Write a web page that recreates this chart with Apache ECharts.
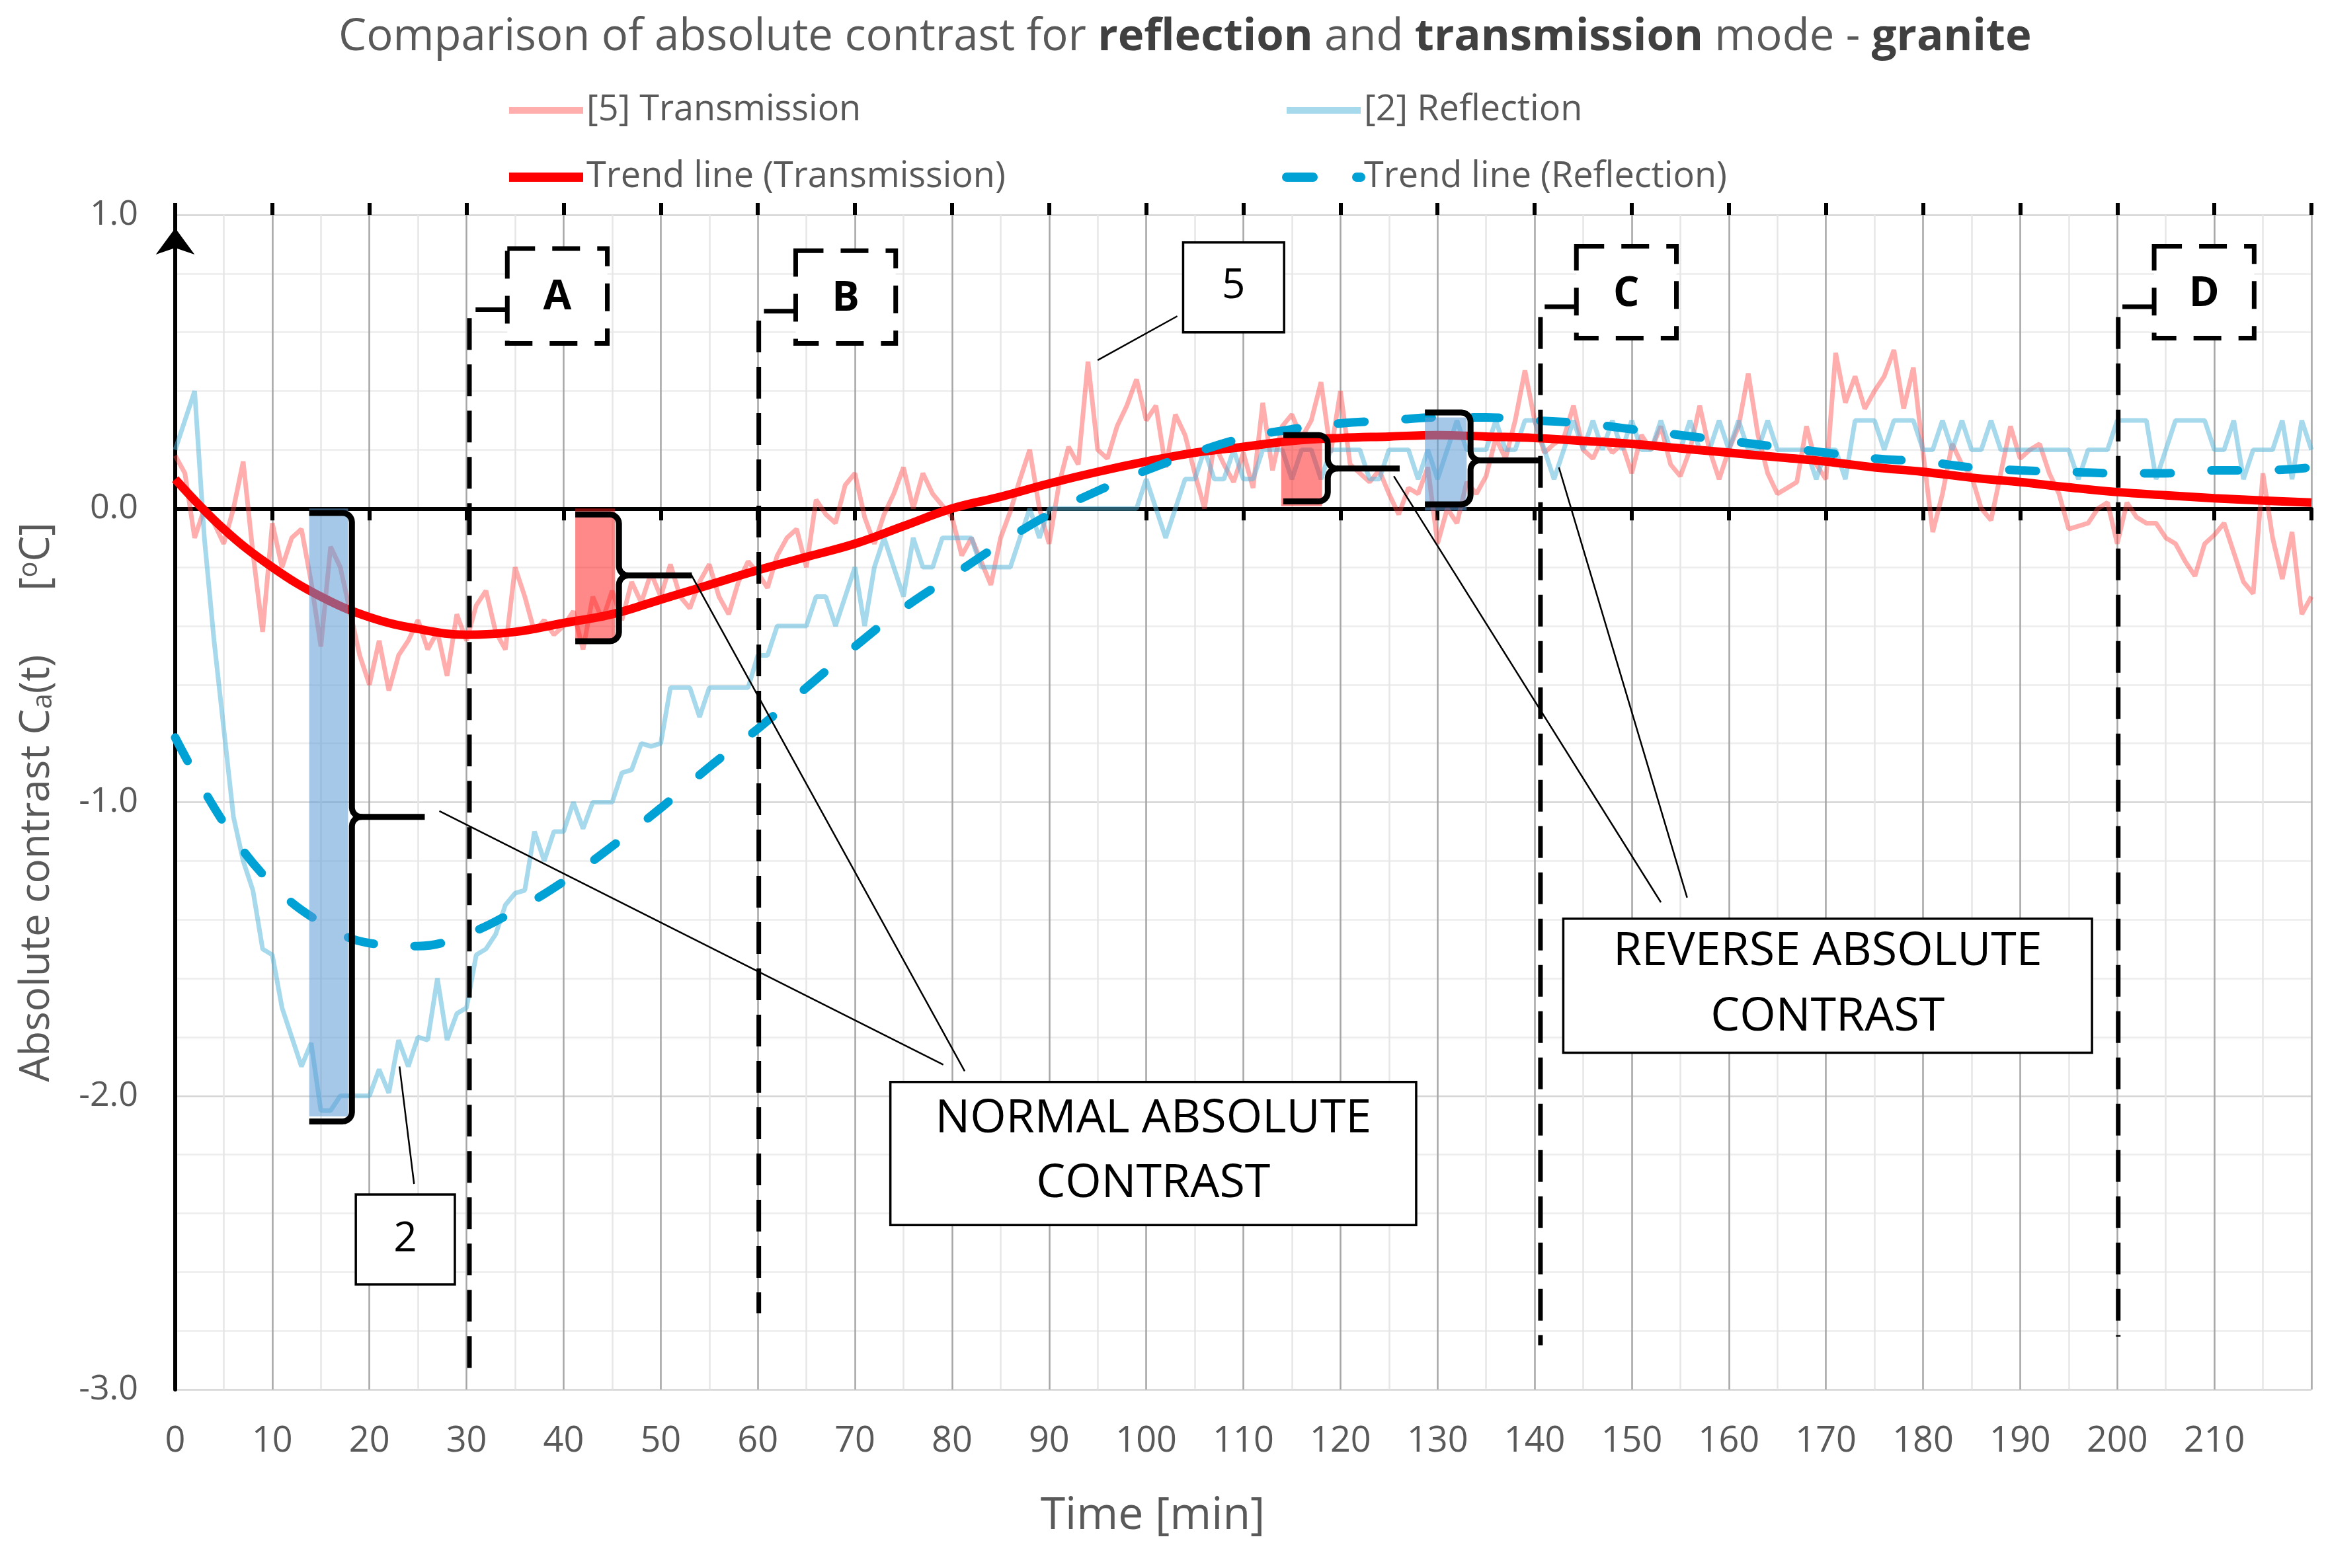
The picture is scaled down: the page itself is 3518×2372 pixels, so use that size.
<!DOCTYPE html>
<html><head><meta charset="utf-8">
<script src="https://cdn.jsdelivr.net/npm/echarts@6/dist/echarts.min.js"></script>
<style>html,body{margin:0;padding:0;background:#fff}#c{width:3518px;height:2372px}</style>
</head><body><div id="c"></div><script>
// ---------- DATA ----------
const TIME = [0,1,2,3,4,5,6,7,8,9,10,11,12,13,14,15,16,17,18,19,20,21,22,23,24,25,26,27,28,29,30,31,32,33,34,35,36,37,38,39,40,41,42,43,44,45,46,47,48,49,50,51,52,53,54,55,56,57,58,59,60,61,62,63,64,65,66,67,68,69,70,71,72,73,74,75,76,77,78,79,80,81,82,83,84,85,86,87,88,89,90,91,92,93,94,95,96,97,98,99,100,101,102,103,104,105,106,107,108,109,110,111,112,113,114,115,116,117,118,119,120,121,122,123,124,125,126,127,128,129,130,131,132,133,134,135,136,137,138,139,140,141,142,143,144,145,146,147,148,149,150,151,152,153,154,155,156,157,158,159,160,161,162,163,164,165,166,167,168,169,170,171,172,173,174,175,176,177,178,179,180,181,182,183,184,185,186,187,188,189,190,191,192,193,194,195,196,197,198,199,200,201,202,203,204,205,206,207,208,209,210,211,212,213,214,215,216,217,218,219,220];

const TRANSMISSION = [
 0.18,0.12,-0.1,0.0,-0.05,-0.12,0.0,0.16,-0.15,-0.42,
 -0.05,-0.2,-0.1,-0.07,-0.25,-0.47,-0.13,-0.2,-0.35,-0.5,
 -0.6,-0.45,-0.62,-0.5,-0.45,-0.38,-0.48,-0.42,-0.57,-0.36,
 -0.45,-0.33,-0.28,-0.42,-0.48,-0.2,-0.3,-0.42,-0.38,-0.43,
 -0.4,-0.35,-0.48,-0.3,-0.38,-0.28,-0.38,-0.25,-0.32,-0.22,
 -0.3,-0.19,-0.3,-0.34,-0.25,-0.19,-0.3,-0.36,-0.25,-0.18,
 -0.22,-0.27,-0.16,-0.1,-0.07,-0.2,0.03,-0.02,-0.05,0.08,
 0.12,-0.03,-0.12,-0.02,0.05,0.14,0.0,0.12,0.05,0.01,
 -0.03,-0.16,-0.1,-0.18,-0.26,-0.1,-0.01,0.1,0.2,0.0,
 -0.12,0.08,0.21,0.15,0.5,0.2,0.17,0.28,0.35,0.44,
 0.3,0.35,0.14,0.32,0.25,0.12,0.0,0.22,0.15,0.09,
 0.19,0.07,0.36,0.13,0.28,0.32,0.24,0.3,0.43,0.19,
 0.4,0.15,0.12,0.09,0.13,0.05,-0.02,0.07,0.05,0.14,
 -0.12,0.0,-0.05,0.09,0.05,0.11,0.24,0.17,0.3,0.47,
 0.3,0.19,0.22,0.24,0.35,0.2,0.17,0.24,0.19,0.22,
 0.12,0.25,0.2,0.28,0.15,0.11,0.2,0.35,0.2,0.1,
 0.2,0.28,0.46,0.25,0.12,0.05,0.07,0.09,0.28,0.15,
 0.1,0.53,0.36,0.45,0.34,0.4,0.45,0.54,0.34,0.48,
 0.19,-0.08,0.05,0.22,0.15,0.11,0.0,-0.04,0.12,0.28,
 0.17,0.2,0.22,0.12,0.05,-0.07,-0.06,-0.05,0.0,0.02,
 -0.12,0.02,-0.03,-0.05,-0.05,-0.1,-0.12,-0.18,-0.23,-0.12,
 -0.09,-0.05,-0.15,-0.25,-0.29,0.12,-0.1,-0.24,-0.08,-0.36,-0.3];

const REFLECTION = [
 0.2,0.3,0.4,-0.1,-0.45,-0.75,-1.05,-1.2,-1.3,-1.5,
 -1.52,-1.7,-1.8,-1.9,-1.82,-2.05,-2.05,-2.0,-2.0,-2.0,
 -2.0,-1.91,-1.99,-1.81,-1.9,-1.8,-1.81,-1.6,-1.81,-1.72,
 -1.7,-1.52,-1.5,-1.45,-1.35,-1.31,-1.3,-1.1,-1.2,-1.1,
 -1.1,-1.0,-1.09,-1.0,-1.0,-1.0,-0.9,-0.89,-0.8,-0.81,
 -0.8,-0.61,-0.61,-0.61,-0.71,-0.61,-0.61,-0.61,-0.61,-0.61,
 -0.5,-0.5,-0.4,-0.4,-0.4,-0.4,-0.3,-0.3,-0.4,-0.3,
 -0.2,-0.4,-0.2,-0.1,-0.2,-0.3,-0.1,-0.2,-0.2,-0.1,
 -0.1,-0.1,-0.1,-0.2,-0.2,-0.2,-0.2,-0.1,0.0,-0.1,
 0.0,0.0,0.0,0.0,0.0,0.0,0.0,0.0,0.0,0.0,
 0.1,0.0,-0.1,0.0,0.1,0.1,0.2,0.1,0.1,0.2,
 0.1,0.1,0.2,0.2,0.2,0.1,0.2,0.2,0.1,0.2,
 0.2,0.2,0.2,0.1,0.1,0.2,0.2,0.2,0.1,0.2,
 0.1,0.2,0.3,0.2,0.2,0.2,0.3,0.2,0.2,0.3,
 0.3,0.2,0.1,0.2,0.3,0.2,0.3,0.2,0.3,0.2,
 0.3,0.2,0.2,0.3,0.2,0.2,0.3,0.2,0.2,0.3,
 0.2,0.3,0.2,0.2,0.3,0.2,0.2,0.2,0.2,0.1,
 0.2,0.2,0.1,0.3,0.3,0.3,0.2,0.3,0.3,0.3,
 0.2,0.2,0.3,0.2,0.3,0.2,0.2,0.3,0.2,0.2,
 0.2,0.2,0.2,0.2,0.2,0.2,0.1,0.2,0.2,0.2,
 0.3,0.3,0.3,0.3,0.1,0.2,0.3,0.3,0.3,0.3,
 0.2,0.2,0.3,0.1,0.2,0.2,0.2,0.3,0.1,0.3,0.2];

const TREND_TIME = [0,5,10,15,20,25,30,35,40,45,50,55,60,65,70,75,80,85,90,95,100,105,110,115,120,125,130,135,140,145,150,155,160,165,170,175,180,185,190,195,200,205,210,215,220];
const TREND_TRANSMISSION = [0.1,-0.07,-0.2,-0.3,-0.37,-0.41,-0.43,-0.42,-0.39,-0.36,-0.31,-0.26,-0.21,-0.165,-0.12,-0.06,0.0,0.04,0.085,0.125,0.16,0.19,0.21,0.23,0.24,0.245,0.25,0.245,0.24,0.23,0.22,0.205,0.19,0.175,0.16,0.14,0.125,0.105,0.09,0.072,0.056,0.045,0.035,0.027,0.02];
const TREND_REFLECTION = [-0.78,-1.07,-1.28,-1.41,-1.48,-1.49,-1.45,-1.37,-1.27,-1.15,-1.02,-0.88,-0.75,-0.61,-0.47,-0.34,-0.23,-0.12,-0.02,0.06,0.13,0.19,0.24,0.27,0.29,0.3,0.31,0.31,0.3,0.29,0.27,0.25,0.23,0.21,0.19,0.17,0.16,0.14,0.13,0.125,0.12,0.12,0.13,0.13,0.14];

const SERIES_NAMES = ['[5] Transmission','[2] Reflection','Trend line (Transmission)','Trend line (Reflection)'];

// ---------- ANNOTATIONS (data coordinates) ----------
const SHADES = [
  {x0:13.8, x1:17.8, y0:0, y1:-2.07, kind:'blue'},
  {x0:41.2, x1:45.3, y0:0, y1:-0.45, kind:'red'},
  {x0:113.9, x1:118.1, y0:0.008, y1:0.237, kind:'red'},
  {x0:128.7, x1:133.0, y0:-0.007, y1:0.31, kind:'blue'}
];
const BRACES = [
  {xL:13.8, xV:18.2, yT:-0.015, yM:-1.05, yB:-2.087, xS:25.7},
  {xL:41.2, xV:45.7, yT:-0.02, yM:-0.228, yB:-0.452, xS:53.2},
  {xL:114.1, xV:118.7, yT:0.25, yM:0.136, yB:0.024, xS:126.1},
  {xL:128.7, xV:133.4, yT:0.327, yM:0.164, yB:0.014, xS:140.75}
];
const PHASES = [
  {label:'A', x:30.3, top:0.677, bottom:-2.955, box:[34.2,44.5,0.562,0.885]},
  {label:'B', x:60.1, top:0.672, bottom:-2.74, box:[63.9,74.2,0.562,0.878]},
  {label:'C', x:140.6, top:0.687, bottom:-2.85, box:[144.3,154.6,0.58,0.893]},
  {label:'D', x:200.1, top:0.687, bottom:-2.82, box:[203.8,214.1,0.58,0.893]}
];
const LEADERS = [
  [95.0,0.505,103.2,0.655],
  [23.1,-1.9,24.6,-2.3],
  [27.2,-1.03,79.1,-1.894],
  [53.1,-0.223,81.3,-1.916],
  [125.5,0.11,153.0,-1.341],
  [142.5,0.14,155.7,-1.325]
];
const NOTE_BOXES = [
  {lines:['5'], ys:[0.755], box:[103.8,114.2,0.6,0.906], size:62},
  {lines:['2'], ys:[-2.49], box:[18.6,28.8,-2.642,-2.336], size:62},
  {lines:['NORMAL ABSOLUTE','CONTRAST'], ys:[-2.079,-2.30], box:[73.65,127.8,-2.44,-1.953], size:70},
  {lines:['REVERSE ABSOLUTE','CONTRAST'], ys:[-1.51,-1.732], box:[142.95,197.4,-1.853,-1.397], size:70}
];

const FONT = '"Open Sans", "Noto Sans", sans-serif';
const GREY = '#595959';

const ANN = [];
SHADES.forEach(s => ANN.push({t:'shade', s}));
PHASES.forEach(s => ANN.push({t:'phase', s}));
BRACES.forEach(s => ANN.push({t:'brace', s}));
LEADERS.forEach(s => ANN.push({t:'leader', s}));
NOTE_BOXES.forEach(s => ANN.push({t:'note', s}));

function rectFrom(api, x0, x1, y0, y1) {
  const a = api.coord([x0, y0]), b = api.coord([x1, y1]);
  return {x: Math.min(a[0], b[0]), y: Math.min(a[1], b[1]), width: Math.abs(b[0]-a[0]), height: Math.abs(b[1]-a[1])};
}

function renderItem(params, api) {
  const a = ANN[api.value(2)];
  const s = a.s;
  if (a.t === 'shade') {
    return {type:'rect', shape: rectFrom(api, s.x0, s.x1, s.y0, s.y1),
      style:{fill: s.kind === 'blue' ? 'rgba(91,155,213,0.55)' : 'rgba(255,20,20,0.5)'}};
  }
  if (a.t === 'phase') {
    const p1 = api.coord([s.box[0], s.top]), p2 = api.coord([s.x, s.top]), p3 = api.coord([s.x, s.bottom]);
    const r = rectFrom(api, s.box[0], s.box[1], s.box[2], s.box[3]);
    return {type:'group', children:[
      {type:'polyline', shape:{points:[p1,p2,p3]}, style:{stroke:'#000', lineWidth:7, lineDash:[48,22], fill:null}},
      {type:'rect', shape:r, style:{stroke:'#000', lineWidth:7, lineDash:[42,26], fill:'#fff'}},
      {type:'text', x: r.x + r.width/2, y: r.y + r.height/2 + 3, style:{text:s.label, fill:'#000', font:'bold 62px ' + FONT, align:'center', verticalAlign:'middle'}}
    ]};
  }
  if (a.t === 'brace') {
    const T = api.coord([s.xL, s.yT]), V = api.coord([s.xV, s.yT]), M = api.coord([s.xV, s.yM]), B = api.coord([s.xV, s.yB]), L2 = api.coord([s.xL, s.yB]), S = api.coord([s.xS, s.yM]);
    const Vx = V[0], Ty = T[1], My = M[1], By = B[1];
    const r = Math.min(14, (By - Ty) / 6);
    const pts = [[T[0], Ty]];
    const N = 6;
    for (let i = 0; i <= N; i++) { const th = Math.PI/2*i/N; pts.push([Vx - r + r*Math.sin(th), Ty + r - r*Math.cos(th)]); }
    for (let i = 0; i <= N; i++) { const th = Math.PI/2*i/N; pts.push([Vx + r - r*Math.cos(th), My - r + r*Math.sin(th)]); }
    for (let i = 0; i <= N; i++) { const th = Math.PI/2*i/N; pts.push([Vx + r - r*Math.sin(th), My + r - r*Math.cos(th)]); }
    for (let i = 0; i <= N; i++) { const th = Math.PI/2*i/N; pts.push([Vx - r + r*Math.cos(th), By - r + r*Math.sin(th)]); }
    pts.push([L2[0], By]);
    return {type:'group', children:[
      {type:'polyline', shape:{points:pts}, style:{stroke:'#000', lineWidth:9, fill:null, lineJoin:'round'}},
      {type:'line', shape:{x1:Vx + r, y1:My, x2:S[0], y2:My}, style:{stroke:'#000', lineWidth:9}}
    ]};
  }
  if (a.t === 'leader') {
    const p = api.coord([s[0], s[1]]), q = api.coord([s[2], s[3]]);
    return {type:'line', shape:{x1:p[0], y1:p[1], x2:q[0], y2:q[1]}, style:{stroke:'#000', lineWidth:2.5}};
  }
  if (a.t === 'note') {
    const r = rectFrom(api, s.box[0], s.box[1], s.box[2], s.box[3]);
    const children = [{type:'rect', shape:r, style:{stroke:'#000', lineWidth:3.5, fill:'#fff'}}];
    s.lines.forEach((ln, i) => {
      const p = api.coord([(s.box[0] + s.box[1]) / 2, s.ys[i]]);
      children.push({type:'text', x:p[0], y:p[1], style:{text:ln, fill:'#000', font: s.size + 'px ' + FONT, align:'center', verticalAlign:'middle'}});
    });
    return {type:'group', children};
  }
  return null;
}

const pairs = (xs, ys) => xs.map((x, i) => [x, ys[i]]);
const legendText = {fontSize:54, color:GREY, fontFamily:FONT, lineHeight:60};

const chart = echarts.init(document.getElementById('c'), null, {renderer:'canvas'});
chart.setOption({
  animation: false,
  backgroundColor: '#fff',
  title: {
    text: '{n|Comparison of absolute contrast for }{b|reflection}{n| and }{b|transmission}{n| mode - }{b|granite}',
    left: 507, top: 18,
    textStyle: {fontSize: 67, fontWeight:'normal', fontFamily: FONT,
      rich: {n:{fontSize:67, fontWeight:'normal', color:GREY, fontFamily:FONT}, b:{fontSize:67, fontWeight:'bold', color:'#404040', fontFamily:FONT}}}
  },
  legend: [
    {orient:'vertical', left:758, top:132, itemWidth:112, itemHeight:24, itemGap:41,
     textStyle:legendText,
     data:[{name:SERIES_NAMES[0], lineStyle:{width:10}, itemStyle:{opacity:0}}, {name:SERIES_NAMES[2], lineStyle:{width:14}, itemStyle:{opacity:0}}]},
    {orient:'vertical', left:1934, top:132, itemWidth:112, itemHeight:24, itemGap:41,
     textStyle:legendText,
     data:[{name:SERIES_NAMES[1], lineStyle:{width:10}, itemStyle:{opacity:0}}, {name:SERIES_NAMES[3], lineStyle:{width:14, type:[40,66]}, itemStyle:{opacity:0}}]}
  ],
  grid: {left:265, right:22, top:325, bottom:270, containLabel:false},
  xAxis: [
    {type:'value', min:0, max:220, interval:10, position:'bottom',
     axisLine:{show:false, onZero:false}, axisTick:{show:false},
     axisLabel:{margin:52, fontSize:54, color:GREY, fontFamily:FONT, formatter: v => v >= 220 ? '' : String(v)},
     splitLine:{show:true, lineStyle:{color:'#A6A6A6', width:2.5}},
     minorTick:{show:false, splitNumber:2},
     minorSplitLine:{show:true, lineStyle:{color:'#E6E6E6', width:2.5}},
     name:'Time [min]', nameLocation:'middle', nameGap:158,
     nameTextStyle:{fontSize:68, color:GREY, fontFamily:FONT, padding:[0,274,0,0]}},
    {type:'value', min:0, max:220, interval:10, position:'bottom',
     axisLine:{show:true, onZero:true, lineStyle:{color:'#000', width:6}},
     axisTick:{show:true, inside:false, length:18, lineStyle:{color:'#000', width:6}},
     axisLabel:{show:false}, splitLine:{show:false}},
    {type:'value', min:0, max:220, interval:10, position:'top',
     axisLine:{show:false, onZero:true},
     axisTick:{show:true, inside:false, length:18, lineStyle:{color:'#000', width:6}},
     axisLabel:{show:false}, splitLine:{show:false}}
  ],
  yAxis: {type:'value', min:-3, max:1, interval:1,
    axisLine:{show:true, onZero:false, lineStyle:{color:'#000', width:6}, symbol:['none','arrow'], symbolSize:[44,40], symbolOffset:[0,-20]},
    axisTick:{show:false},
    axisLabel:{margin:56, fontSize:52, color:GREY, fontFamily:FONT, formatter: v => v.toFixed(1)},
    splitLine:{show:true, lineStyle:{color:'#D4D4D4', width:2.5}},
    minorTick:{show:false, splitNumber:5},
    minorSplitLine:{show:true, lineStyle:{color:'#EDEDED', width:2.5}},
    name:'Absolute contrast C{sub|a}(t)      [{sup|o}C]', nameLocation:'middle', nameGap:178, nameRotate:90,
    nameTextStyle:{fontSize:62, color:GREY, fontFamily:FONT,
      rich:{sub:{fontSize:42, color:GREY, fontFamily:FONT, verticalAlign:'bottom'}, sup:{fontSize:40, color:GREY, fontFamily:FONT, verticalAlign:'top'}}}
  },
  series: [
    {name:SERIES_NAMES[0], type:'line', data:pairs(TIME, TRANSMISSION), showSymbol:false, symbol:'none',
     lineStyle:{color:'rgba(255,60,60,0.42)', width:7}, itemStyle:{color:'rgba(255,60,60,0.42)'}, z:2},
    {name:SERIES_NAMES[1], type:'line', data:pairs(TIME, REFLECTION), showSymbol:false, symbol:'none',
     lineStyle:{color:'rgba(80,180,220,0.5)', width:7}, itemStyle:{color:'rgba(80,180,220,0.5)'}, z:2},
    {name:SERIES_NAMES[2], type:'line', data:pairs(TREND_TIME, TREND_TRANSMISSION), showSymbol:false, symbol:'none', smooth:0.4,
     lineStyle:{color:'#FF0000', width:13}, itemStyle:{color:'#FF0000'}, z:3},
    {name:SERIES_NAMES[3], type:'line', data:pairs(TREND_TIME, TREND_REFLECTION), showSymbol:false, symbol:'none', smooth:0.4,
     lineStyle:{color:'#00A2D6', width:13, type:[40,62], cap:'round'}, itemStyle:{color:'#00A2D6'}, z:3},
    {type:'custom', name:'annotations', renderItem, data: ANN.map((a, i) => [0, 0, i]), encode:{x:0, y:1},
     clip:false, silent:true, z:5}
  ]
});
</script></body></html>
